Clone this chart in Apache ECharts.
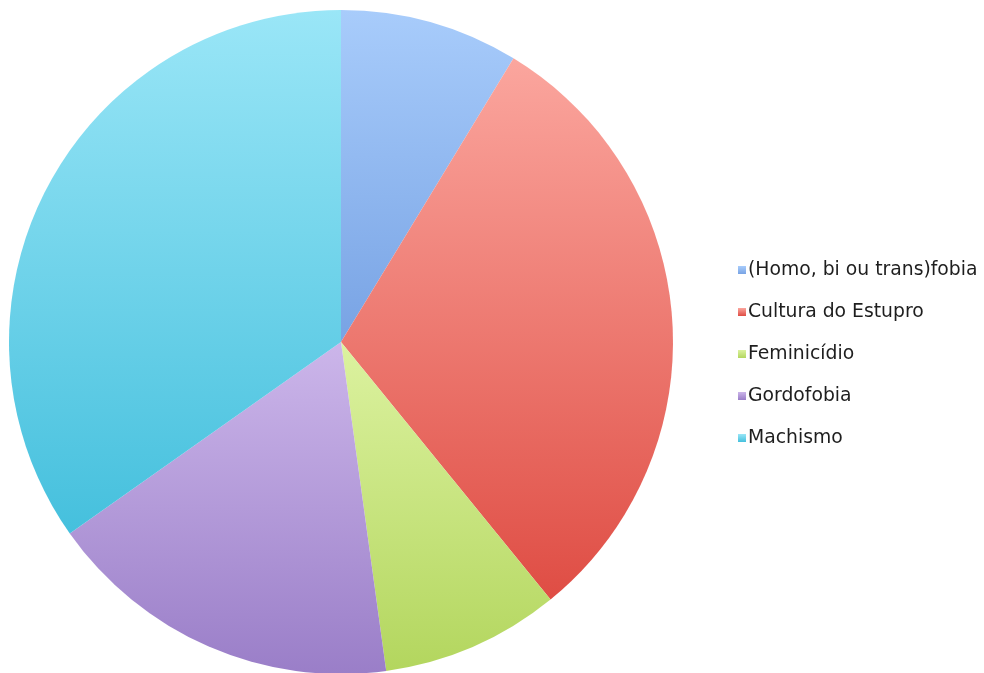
<!DOCTYPE html>
<html>
<head>
<meta charset="utf-8">
<script src="https://cdn.jsdelivr.net/npm/echarts@6/dist/echarts.min.js"></script>
<style>
  html, body { margin: 0; padding: 0; background: #fff; }
  #chart { width: 984px; height: 673px; }
</style>
</head>
<body>
<div id="chart"></div>
<script>
// Categories and counts for the pie
var categories = ['(Homo, bi ou trans)fobia', 'Cultura do Estupro', 'Feminicídio', 'Gordofobia', 'Machismo'];
var counts = [2, 7, 2, 4, 8];

// Top / bottom colour of each slice's vertical shading
var topColors = ['#a8ccfb', '#fba69e', '#dcf2a0', '#ccb6ea', '#9ae6f7'];
var bottomColors = ['#78a3e4', '#df4d44', '#b3d65e', '#9a7ec8', '#45c0dd'];

function shade(i) {
  return new echarts.graphic.LinearGradient(0, 0, 0, 1, [
    { offset: 0, color: topColors[i] },
    { offset: 1, color: bottomColors[i] }
  ]);
}

var chart = echarts.init(document.getElementById('chart'));
chart.setOption({
  backgroundColor: '#ffffff',
  animation: false,
  legend: {
    orient: 'vertical',
    left: 733,
    top: 254,
    itemWidth: 8,
    itemHeight: 8,
    itemGap: 20,
    icon: 'rect',
    textStyle: {
      fontFamily: 'DejaVu Sans',
      fontSize: 18.8,
      lineHeight: 22,
      color: '#1e1e1e',
      padding: [0, 0, 0, -3]
    },
    data: categories
  },
  series: [{
    type: 'pie',
    center: [341, 342],
    radius: [0, 332],
    startAngle: 90,
    clockwise: true,
    label: { show: false },
    labelLine: { show: false },
    emphasis: { disabled: true },
    itemStyle: { borderWidth: 0 },
    data: categories.map(function (name, i) {
      return { name: name, value: counts[i], itemStyle: { color: shade(i) } };
    })
  }]
});
</script>
</body>
</html>
